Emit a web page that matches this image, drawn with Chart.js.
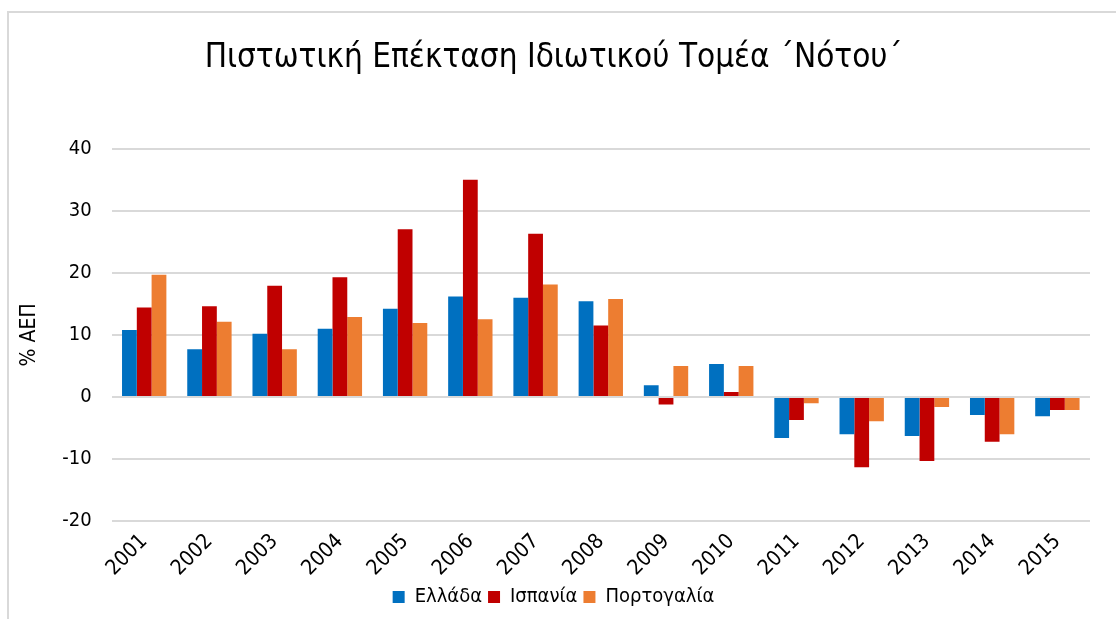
<!DOCTYPE html>
<html>
<head>
<meta charset="utf-8">
<script src="https://cdn.jsdelivr.net/npm/chart.js@4"></script>
<style>
  body { margin: 0; background: #fff; }
  #frame {
    position: absolute; left: 7px; top: 11px;
    width: 1200px; height: 700px;
    border: 2px solid #d9d9d9;
  }
  #wrap { position: absolute; left: 0; top: 0; width: 1116px; height: 619px; }
</style>
</head>
<body>
<div id="frame"></div>
<div id="wrap"><canvas id="chart" width="1116" height="619"></canvas></div>
<script>
const years = ["2001", "2002", "2003", "2004", "2005", "2006", "2007", "2008",
  "2009", "2010", "2011", "2012", "2013", "2014", "2015"];

// % ΑΕΠ
const greece = [10.8, 7.7, 10.2, 11.0, 14.2, 16.2, 16.0, 15.4, 1.9, 5.3, -6.6, -6.0, -6.3, -2.9, -3.1];
const spain = [14.4, 14.6, 17.9, 19.3, 27.0, 35.0, 26.3, 11.5, -1.2, 0.8, -3.7, -11.3, -10.3, -7.2, -2.1];
const portugal = [19.7, 12.1, 7.7, 12.9, 11.9, 12.5, 18.1, 15.8, 5.0, 5.0, -1.0, -3.9, -1.6, -6.0, -2.1];

const seriesNames = ["Ελλάδα", "Ισπανία", "Πορτογαλία"];
const colors = ["#0070c0", "#c00000", "#ed7d31"];

const font = "'DejaVu Sans Condensed', 'Liberation Sans Narrow', sans-serif";

const datasets = [greece, spain, portugal].map((vals, i) => ({
  label: seriesNames[i],
  data: vals,
  backgroundColor: colors[i],
  borderWidth: 0
}));

new Chart(document.getElementById("chart"), {
  type: "bar",
  data: { labels: years, datasets: datasets },
  options: {
    responsive: false,
    animation: false,
    categoryPercentage: 0.68,
    barPercentage: 1.0,
    layout: { padding: { left: 17, right: 26, top: 20, bottom: 2 } },
    plugins: {
      title: {
        display: true,
        text: "Πιστωτική Επέκταση Ιδιωτικού Τομέα ΄Νότου΄",
        color: "#000",
        font: { family: font, size: 33, weight: "normal" },
        padding: { top: 19, bottom: 70 }
      },
      legend: {
        position: "bottom",
        labels: {
          color: "#000",
          font: { family: font, size: 20 },
          boxWidth: 12,
          boxHeight: 12,
          padding: 6
        }
      },
      tooltip: { enabled: false }
    },
    scales: {
      x: {
        grid: { display: false },
        border: { display: false },
        ticks: {
          color: "#000",
          font: { family: font, size: 21 },
          maxRotation: 45,
          minRotation: 45,
          padding: 0
        }
      },
      y: {
        min: -20,
        max: 40,
        grid: { color: "#d9d9d9", lineWidth: 2, drawTicks: false },
        border: { display: false },
        ticks: {
          stepSize: 10,
          color: "#000",
          font: { family: font, size: 20 },
          padding: 20
        },
        title: {
          display: true,
          text: "% ΑΕΠ",
          color: "#000",
          font: { family: font, size: 21 },
          padding: { top: 0, bottom: 0 }
        }
      }
    }
  }
});
</script>
</body>
</html>
